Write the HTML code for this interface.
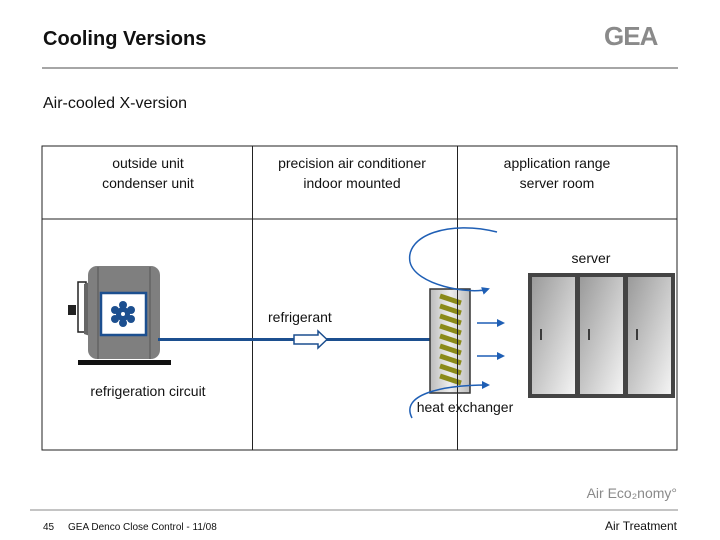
<!DOCTYPE html>
<html><head><meta charset="utf-8"><style>
body{margin:0;width:720px;height:540px;background:#fff;overflow:hidden;font-family:"Liberation Sans",sans-serif;}
svg{position:absolute;left:0;top:0}
</style></head><body>
<svg width="720" height="540" viewBox="0 0 720 540" font-family="Liberation Sans, sans-serif">
<defs>
<linearGradient id="sv" x1="0" y1="0" x2="1" y2="1"><stop offset="0" stop-color="#9a9a9a"/><stop offset="1" stop-color="#f4f4f4"/></linearGradient>
<linearGradient id="hx" x1="0" y1="0" x2="1" y2="0"><stop offset="0" stop-color="#bbb"/><stop offset="0.5" stop-color="#eee"/><stop offset="1" stop-color="#bbb"/></linearGradient>
<marker id="ah" markerWidth="8" markerHeight="8" refX="6" refY="4" orient="auto" markerUnits="userSpaceOnUse"><path d="M0,0 L8,4 L0,8 z" fill="#1f5fb5"/></marker>
</defs>
<text x="43" y="45" font-size="20" font-weight="bold" fill="#111">Cooling Versions</text>
<line x1="42" y1="68" x2="678" y2="68" stroke="#888" stroke-width="1.5"/>
<text x="604" y="45" font-size="26" font-weight="bold" fill="#8a8a8a" letter-spacing="-1">GEA</text>
<text x="43" y="108" font-size="16" fill="#111">Air-cooled  X-version</text>
<!-- table -->
<rect x="42" y="146" width="635" height="304" fill="none" stroke="#222" stroke-width="1"/>
<line x1="42" y1="219" x2="677" y2="219" stroke="#222"/>
<line x1="252.5" y1="146" x2="252.5" y2="450" stroke="#222"/>
<line x1="457.5" y1="146" x2="457.5" y2="450" stroke="#222"/>
<g font-size="14" fill="#111" text-anchor="middle">
<text x="148" y="168">outside unit</text><text x="148" y="188">condenser unit</text>
<text x="352" y="168">precision air conditioner</text><text x="352" y="188">indoor mounted</text>
<text x="557" y="168">application range</text><text x="557" y="188">server room</text>
</g>
<!-- condenser -->
<rect x="78" y="282" width="8" height="50" fill="none" stroke="#222" stroke-width="1.5"/>
<rect x="68" y="305" width="8" height="10" fill="#222"/>
<path d="M84,284 L90,282 L90,336 L84,334z" fill="#666"/>
<rect x="88" y="266" width="72" height="93" rx="9" fill="#7f7f7f"/>
<line x1="98" y1="267" x2="98" y2="359" stroke="#555"/>
<line x1="150" y1="267" x2="150" y2="359" stroke="#555"/>
<rect x="101" y="293" width="45" height="42" fill="#fff" stroke="#1c4f8f" stroke-width="2.5"/>
<g fill="#1c4f8f" transform="translate(123,314)">
<circle r="7"/>
<circle cx="0" cy="-9" r="4"/><circle cx="8" cy="-4" r="4"/><circle cx="8" cy="5" r="4"/><circle cx="0" cy="9" r="4"/><circle cx="-8" cy="5" r="4"/><circle cx="-8" cy="-4" r="4"/>
<circle r="2" fill="#fff"/>
</g>
<rect x="78" y="360" width="93" height="5" fill="#111"/>
<text x="148" y="396" font-size="14" fill="#111" text-anchor="middle">refrigeration circuit</text>
<!-- pipe -->
<line x1="158" y1="339.5" x2="432" y2="339.5" stroke="#1c4f8f" stroke-width="3"/>
<path d="M294,335 L318,335 L318,331 L327,339.5 L318,348 L318,344 L294,344z" fill="#fff" stroke="#1c4f8f" stroke-width="1.5"/>
<text x="268" y="322" font-size="14" fill="#111">refrigerant</text>
<!-- heat exchanger -->
<rect x="430" y="289" width="40" height="104" fill="url(#hx)" stroke="#333" stroke-width="1.5"/>
<g stroke="#8a8a1a" stroke-width="5">
<line x1="440" y1="296" x2="461" y2="303"/><line x1="440" y1="306" x2="461" y2="313"/><line x1="440" y1="316" x2="461" y2="323"/><line x1="440" y1="326" x2="461" y2="333"/><line x1="440" y1="336" x2="461" y2="343"/><line x1="440" y1="346" x2="461" y2="353"/><line x1="440" y1="356" x2="461" y2="363"/><line x1="440" y1="366" x2="461" y2="373"/><line x1="440" y1="376" x2="461" y2="383"/>
</g>
<line x1="457.5" y1="289" x2="457.5" y2="393" stroke="#222"/>
<!-- air swirl -->
<path d="M497,232 C450,220 405,235 410,262 C415,285 470,295 488,289" fill="none" stroke="#1f5fb5" stroke-width="1.5" marker-end="url(#ah)"/>
<path d="M412,418 C400,395 440,385 488,385" fill="none" stroke="#1f5fb5" stroke-width="1.5" marker-end="url(#ah)"/>
<line x1="477" y1="323" x2="503" y2="323" stroke="#1f5fb5" stroke-width="1.5" marker-end="url(#ah)"/>
<line x1="477" y1="356" x2="503" y2="356" stroke="#1f5fb5" stroke-width="1.5" marker-end="url(#ah)"/>
<text x="465" y="412" font-size="14" fill="#111" text-anchor="middle">heat exchanger</text>
<!-- servers -->
<text x="591" y="263" font-size="14" fill="#111" text-anchor="middle">server</text>
<rect x="528" y="273" width="147" height="125" fill="#444"/>
<rect x="532" y="277" width="43" height="117" fill="url(#sv)"/>
<rect x="580" y="277" width="43" height="117" fill="url(#sv)"/>
<rect x="628" y="277" width="43" height="117" fill="url(#sv)"/>
<g stroke="#111" stroke-width="1.5"><line x1="541" y1="329" x2="541" y2="340"/><line x1="589" y1="329" x2="589" y2="340"/><line x1="637" y1="329" x2="637" y2="340"/></g>
<!-- footer -->
<text x="677" y="498" font-size="14" fill="#8a8a8a" text-anchor="end">Air Eco₂nomy°</text>
<line x1="30" y1="510" x2="678" y2="510" stroke="#888" stroke-width="1"/>
<text x="43" y="530" font-size="10" fill="#111">45</text>
<text x="68" y="530" font-size="10" fill="#111">GEA Denco Close Control - 11/08</text>
<text x="677" y="530" font-size="12" fill="#111" text-anchor="end">Air Treatment</text>
</svg>
</body></html>
